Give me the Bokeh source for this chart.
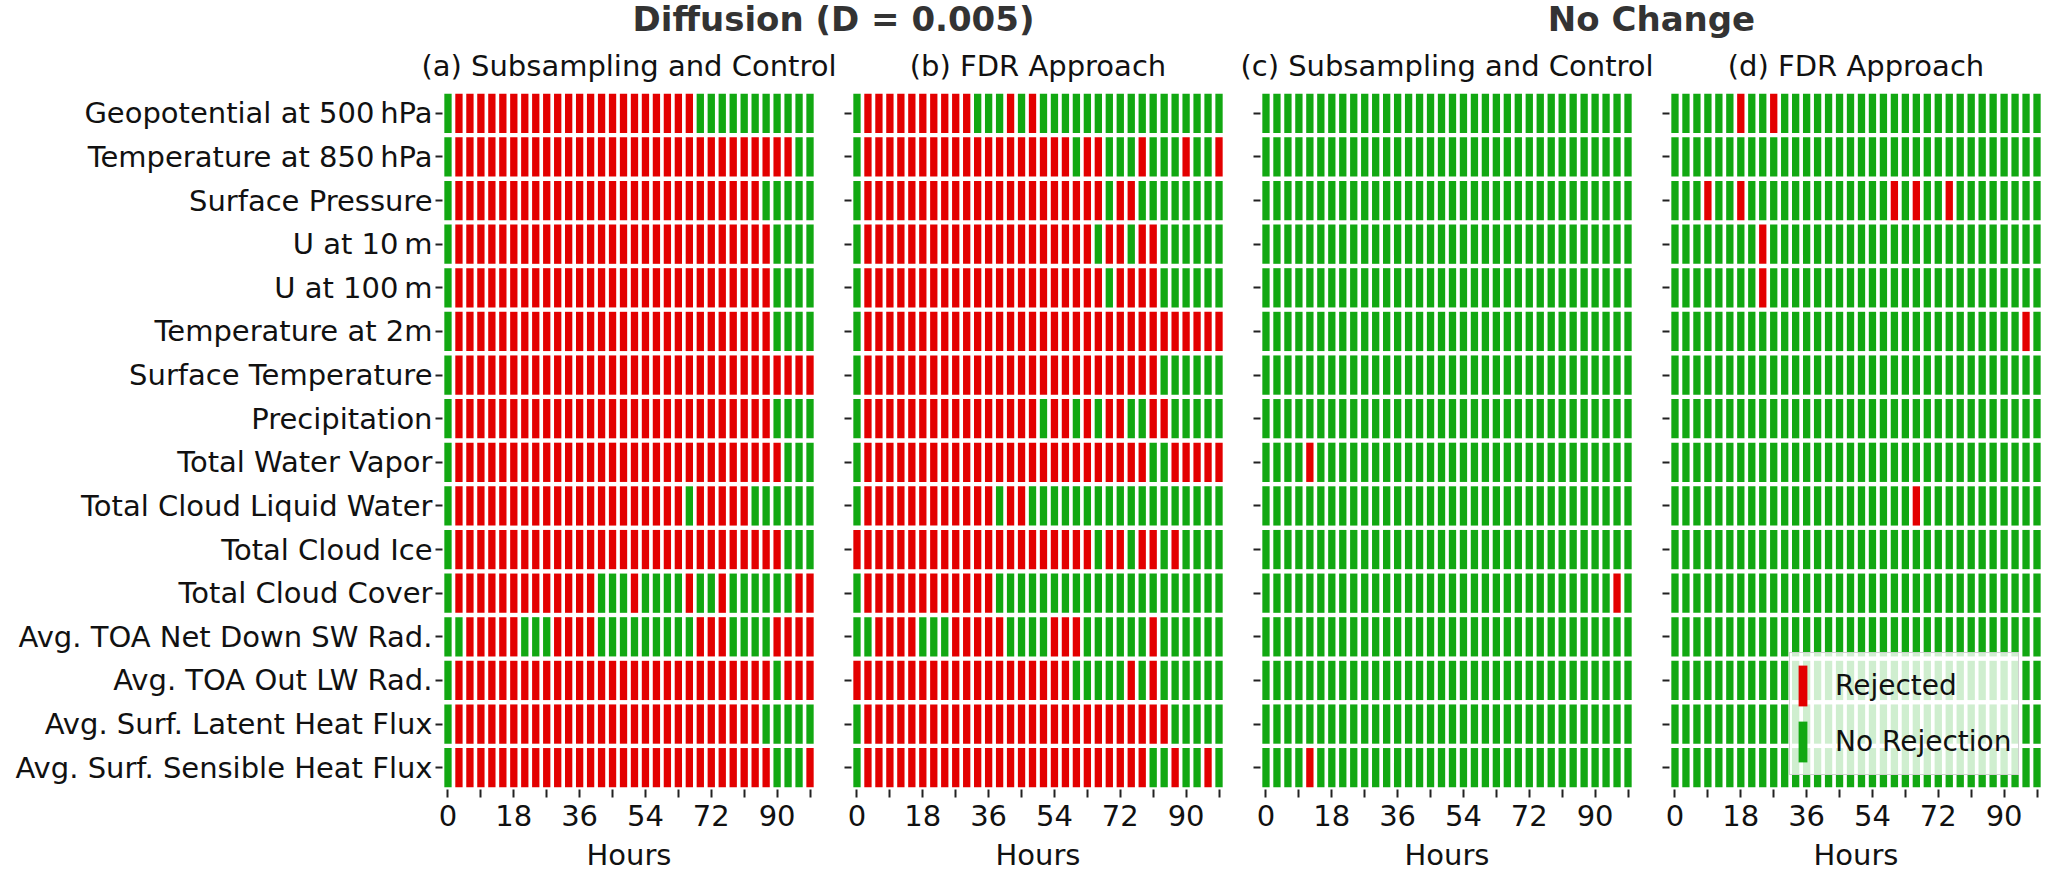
from bokeh.plotting import figure
from bokeh.models import (FactorRange, FixedTicker, Legend, LegendItem, ColumnDataSource,
                          Range1d, CustomJSTickFormatter)
from bokeh.layouts import row, column
from bokeh.embed import file_html
from bokeh.resources import INLINE
from bokeh.core.properties import value

# ---------------- data ----------------
variables = [
    "Geopotential at 500\u2009hPa", "Temperature at 850\u2009hPa", "Surface Pressure",
    "U at 10\u2009m", "U at 100\u2009m", "Temperature at 2m", "Surface Temperature",
    "Precipitation", "Total Water Vapor", "Total Cloud Liquid Water", "Total Cloud Ice",
    "Total Cloud Cover", "Avg. TOA Net Down SW Rad.", "Avg. TOA Out LW Rad.",
    "Avg. Surf. Latent Heat Flux", "Avg. Surf. Sensible Heat Flux",
]
hours = [0, 3, 6, 9, 12, 15, 18, 21, 24, 27, 30, 33, 36, 39, 42, 45, 48,
         51, 54, 57, 60, 63, 66, 69, 72, 75, 78, 81, 84, 87, 90, 93, 96, 99]
x_tick_labels = [0, 18, 36, 54, 72, 90]
x_minor_ticks = [9, 27, 45, 63, 81, 99]

# '1' = Rejected, '0' = No Rejection; one string per variable, one char per hour
diffusion_subsampling = [
    "0111111111 1111111111 1110000000 0000",
    "0111111111 1111111111 1111111111 1100",
    "0111111111 1111111111 1111111110 0000",
    "0111111111 1111111111 1111111111 0000",
    "0111111111 1111111111 1111111111 0000",
    "0111111111 1111111111 1111111111 0000",
    "0111111111 1111111111 1111111111 1111",
    "0111111111 1111111111 1111111111 0000",
    "0111111111 1111111111 1111111111 1000",
    "0111111111 1111111111 1101111100 0000",
    "0111111111 1111111111 1111111111 1000",
    "0111111111 1111000100 0010010000 0011",
    "0011111000 1111000000 0001110000 1111",
    "0111111111 1111111111 1111111111 0111",
    "0111111111 1111111111 1111111110 0000",
    "0111111111 1111111111 1111111111 0001",
]
diffusion_fdr = [
    "0111111111 1000101000 0000000000 0000",
    "0111111111 1111111111 0110001000 1001",
    "0111111111 1111111111 1110110000 0000",
    "0111111111 1111111111 1101101100 0000",
    "0111111111 1111111111 1110111100 0000",
    "0111111111 1111111111 1111111111 1111",
    "0111111111 1111111111 1111111100 0000",
    "0111111111 1111111011 0101100110 0000",
    "0111111111 1111111111 1111111001 1111",
    "0111111111 1110110000 0000000000 0000",
    "1111111111 1111111111 1101101101 0000",
    "0111111111 1110000000 0000000000 0000",
    "0011110001 1111000011 1000000100 0000",
    "1111111111 1111111111 0000010100 0000",
    "0111111111 1111111111 1111111110 0000",
    "0111111111 1111111111 1111111001 0010",
]
nochange_subsampling = [
    "0000000000 0000000000 0000000000 0000",
    "0000000000 0000000000 0000000000 0000",
    "0000000000 0000000000 0000000000 0000",
    "0000000000 0000000000 0000000000 0000",
    "0000000000 0000000000 0000000000 0000",
    "0000000000 0000000000 0000000000 0000",
    "0000000000 0000000000 0000000000 0000",
    "0000000000 0000000000 0000000000 0000",
    "0000100000 0000000000 0000000000 0000",
    "0000000000 0000000000 0000000000 0000",
    "0000000000 0000000000 0000000000 0000",
    "0000000000 0000000000 0000000000 0010",
    "0000000000 0000000000 0000000000 0000",
    "0000000000 0000000000 0000000000 0000",
    "0000000000 0000000000 0000000000 0000",
    "0000100000 0000000000 0000000000 0000",
]
nochange_fdr = [
    "0000001001 0000000000 0000000000 0000",
    "0000000000 0000000000 0000000000 0000",
    "0001001000 0000000000 1010010000 0000",
    "0000000010 0000000000 0000000000 0000",
    "0000000010 0000000000 0000000000 0000",
    "0000000000 0000000000 0000000000 0010",
    "0000000000 0000000000 0000000000 0000",
    "0000000000 0000000000 0000000000 0000",
    "0000000000 0000000000 0000000000 0000",
    "0000000000 0000000000 0010000000 0000",
    "0000000000 0000000000 0000000000 0000",
    "0000000000 0000000000 0000000000 0000",
    "0000000000 0000000000 0000000000 0000",
    "0000000000 0000000000 0000000000 0000",
    "0000000000 0000000000 0000000000 0000",
    "0000000000 0000000000 0000000000 0000",
]
panels = [diffusion_subsampling, diffusion_fdr, nochange_subsampling, nochange_fdr]
panel_titles = ["(a) Subsampling and Control", "(b) FDR Approach",
                "(c) Subsampling and Control", "(d) FDR Approach"]
group_titles = ["Diffusion (D = 0.005)", "No Change"]
legend_labels = ["Rejected", "No Rejection"]

# ---------------- style ----------------
FONT = "DejaVu Sans"
RED = "#e30000"
GREEN = "#12a812"
FRAME_W = 373
FRAME_H = 698
HEADER_H = 91


def make_panel(data, idx):
    first = idx == 0
    p = figure(
        frame_width=FRAME_W, frame_height=FRAME_H,
        x_range=Range1d(-1.5, 100.5),
        y_range=FactorRange(factors=variables[::-1], range_padding=0),
        output_backend="svg", toolbar_location=None,
        min_border_left=442 if first else 32, min_border_right=4,
        min_border_top=0, min_border_bottom=0,
    )
    p.outline_line_color = None
    p.grid.visible = False
    p.background_fill_color = "white"

    rej = {"x": [], "y": []}
    ok = {"x": [], "y": []}
    for var, s in zip(variables, data):
        s = s.replace(" ", "")
        for h, c in zip(hours, s):
            target = rej if c == "1" else ok
            target["x"].append(h)
            target["y"].append(var)
    r_rej = p.rect(x="x", y="y", width=2.0, height=0.9, source=ColumnDataSource(rej),
                   fill_color=RED, line_color=None)
    r_ok = p.rect(x="x", y="y", width=2.0, height=0.9, source=ColumnDataSource(ok),
                  fill_color=GREEN, line_color=None)

    xa = p.xaxis[0]
    xa.ticker = FixedTicker(ticks=x_tick_labels, minor_ticks=x_minor_ticks)
    xa.axis_line_color = None
    xa.major_tick_in = 0
    xa.major_tick_out = 8
    xa.minor_tick_in = 0
    xa.minor_tick_out = 8
    xa.major_tick_line_width = 2
    xa.minor_tick_line_width = 2
    xa.major_tick_line_color = "#222222"
    xa.minor_tick_line_color = "#222222"
    xa.major_label_text_font = FONT
    xa.major_label_text_font_size = "29px"
    xa.major_label_text_color = "#111111"
    xa.major_label_standoff = 7
    xa.axis_label = "Hours"
    xa.axis_label_text_font = FONT
    xa.axis_label_text_font_size = "29px"
    xa.axis_label_text_font_style = "normal"
    xa.axis_label_text_color = "#111111"
    xa.axis_label_standoff = 9

    ya = p.yaxis[0]
    ya.axis_line_color = None
    ya.major_tick_in = 0
    ya.major_tick_out = 7
    ya.major_tick_line_width = 2
    ya.major_tick_line_color = "#222222"
    ya.major_label_standoff = 3
    ya.major_label_text_font = FONT
    ya.major_label_text_font_size = "29px"
    ya.major_label_text_color = "#111111"
    if not first:
        ya.formatter = CustomJSTickFormatter(code="return '';")
        ya.major_label_standoff = 0

    if idx == 3:
        legend = Legend(
            items=[LegendItem(label=legend_labels[0], renderers=[r_rej]),
                   LegendItem(label=legend_labels[1], renderers=[r_ok])],
            location=(120, 14), orientation="vertical",
            glyph_width=11, glyph_height=51, spacing=5, padding=7, margin=0,
            label_standoff=27, label_text_font=FONT, label_text_font_size="28px",
            label_text_color="#111111",
            background_fill_color="white", background_fill_alpha=0.8,
            border_line_color="#cccccc", border_line_alpha=0.9, border_line_width=1,
        )
        p.add_layout(legend, "center")
    return p


plots = [make_panel(d, i) for i, d in enumerate(panels)]

# header with group and panel titles
frame_lefts = [442, 442 + FRAME_W + 4 + 32]
frame_lefts += [frame_lefts[1] + 409, frame_lefts[1] + 818]
header_w = frame_lefts[3] + FRAME_W + 4
header = figure(width=header_w, height=HEADER_H, x_range=Range1d(0, header_w),
                y_range=Range1d(0, HEADER_H), output_backend="svg", toolbar_location=None,
                min_border=0)
header.axis.visible = False
header.grid.visible = False
header.outline_line_color = None
centers = [fl + FRAME_W / 2 for fl in frame_lefts]
pair_centers = [(frame_lefts[0] + frame_lefts[1] + FRAME_W) / 2,
                (frame_lefts[2] + frame_lefts[3] + FRAME_W) / 2]
header.text(x=centers, y=[26] * 4, text=panel_titles, text_font=value(FONT),
            text_font_size="29px", text_align="center", text_baseline="middle",
            text_color="#111111")
header.text(x=pair_centers, y=[73, 73], text=group_titles,
            text_font=value(FONT),
            text_font_size="34px", text_font_style="bold", text_align="center",
            text_baseline="middle", text_color="#333333")

layout = column(header, row(*plots, spacing=0), spacing=0)
open("out.html", "w").write(file_html(layout, INLINE))
